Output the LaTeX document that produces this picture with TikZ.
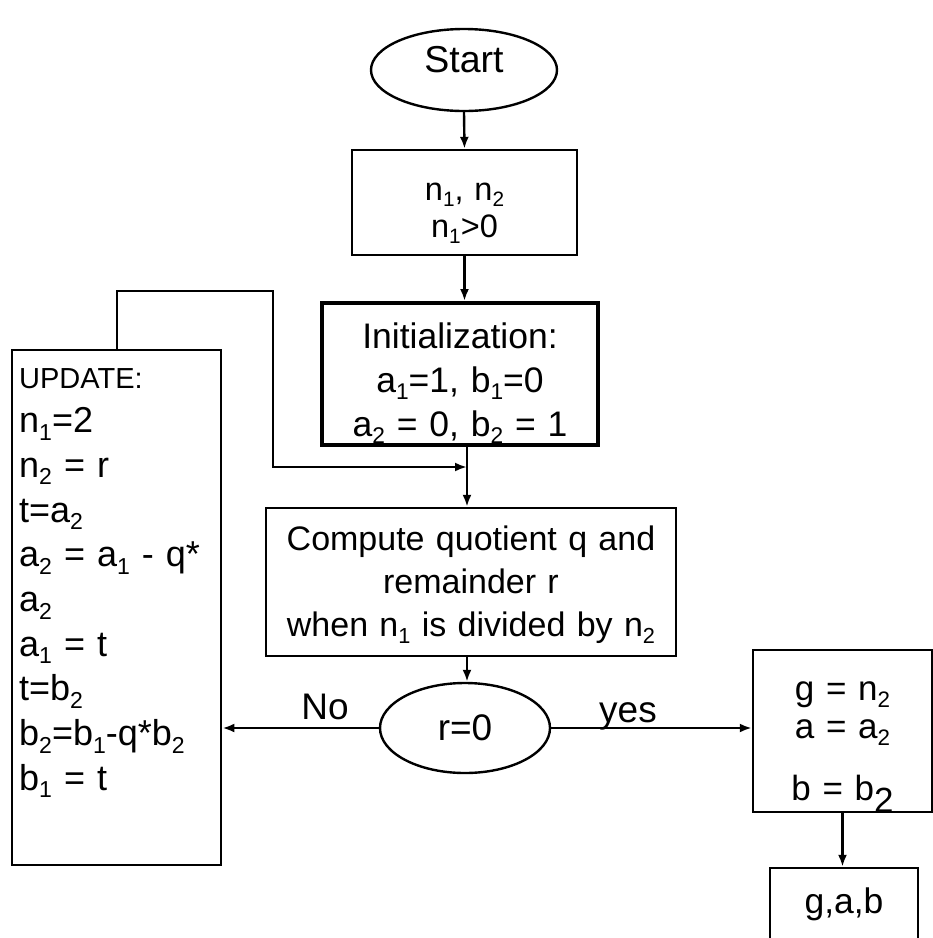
\documentclass[tikz,border=0pt]{standalone}
\usepackage{fontspec,graphicx}
\setmainfont{Liberation Sans}
\usetikzlibrary{arrows.meta,positioning,shapes.geometric}
\newcommand\sub[1]{\raisebox{-0.21em}{\scalebox{0.64}{#1}}}
\tikzset{
  box/.style={draw,line width=2.4pt,inner xsep=4pt,inner ysep=0pt,align=center,anchor=base},
  oval/.style={draw,ellipse,line width=2.4pt,inner sep=0pt},
  flow/.style={->,line width=2.4pt},
  lbl/.style={anchor=base,font=\fontsize{37}{42}\selectfont}
}

\begin{document}
\begin{tikzpicture}[x=1pt,y=-1pt,>={Latex[length=12pt,width=9pt]}]
\useasboundingbox (0,0) rectangle (933,938);
\node[oval,minimum width=186pt,minimum height=82pt,font=\fontsize{37.5}{42}\selectfont,text height=21pt,text depth=17pt] (start) at (464,70) {Start};
\node[box,text width=217pt,text height=50pt,text depth=55pt,font=\fontsize{32.5}{37}\selectfont] (inbox) at (464.5,200) {n\sub1, n\sub2\\ n\sub1>0};
\node[box,line width=4pt,text width=268pt,text height=45pt,text depth=97pt,font=\fontsize{35.5}{44}\selectfont] (init) at (460,348) {Initialization:\\ a\sub1=1, b\sub1=0\\ a\sub2 = 0, b\sub2 = 1};
\node[box,text width=402pt,text height=42pt,text depth=106pt,font=\fontsize{34}{43}\selectfont] (comp) at (471,550) {Compute quotient q and\\ remainder r\\ when n\sub1 is divided by n\sub2};
\node[oval,minimum width=170pt,minimum height=90pt,font=\fontsize{37}{42}\selectfont] (test) at (465,728) {r=0};
\node[box,anchor=base west,align=left,inner xsep=7pt,text width=195pt,text height=38pt,text depth=477pt,font=\fontsize{36}{44.7}\selectfont] (upd) at (11,388)
  {{\fontsize{29}{44.7}\selectfont UPDATE:}\\ n\sub1=2\\ n\sub2 = r\\ t=a\sub2\\ a\sub2 = a\sub1 - q*\\ a\sub2\\ a\sub1 = t\\ t=b\sub2\\ b\sub2=b\sub1-q*b\sub2\\ b\sub1 = t};
\node[box,text width=171pt,text height=50pt,text depth=112pt,font=\fontsize{35}{38}\selectfont] (gbox) at (842.5,700) {g = n\sub2\\ a = a\sub2\\[24pt] b = b\raisebox{-12pt}{2}};
\node[box,text width=140pt,text height=45pt,text depth=40pt,font=\fontsize{35.5}{40}\selectfont] (gab) at (844,913) {g,a,b};
\node[lbl] (no) at (325,719) {No};
\node[lbl] (yes) at (628,722) {yes};
\coordinate (merge) at (467,467);
\coordinate (turn) at (273,291);
\draw[flow] (start.south) -- (inbox.north);
\draw[flow] (inbox.south) -- (inbox.south |- init.north);
\draw[flow] (init.south -| merge) -- (comp.north -| merge);
\draw[flow] (upd.north) |- (turn) |- (merge);
\draw[flow] (comp.south -| merge) -- (test.north -| merge);
\draw[flow] (test.west) -- (test.west -| upd.east);
\draw[flow] (test.east) -- (test.east -| gbox.west);
\draw[flow] (gbox.south) -- (gbox.south |- gab.north);
\end{tikzpicture}
\end{document}
